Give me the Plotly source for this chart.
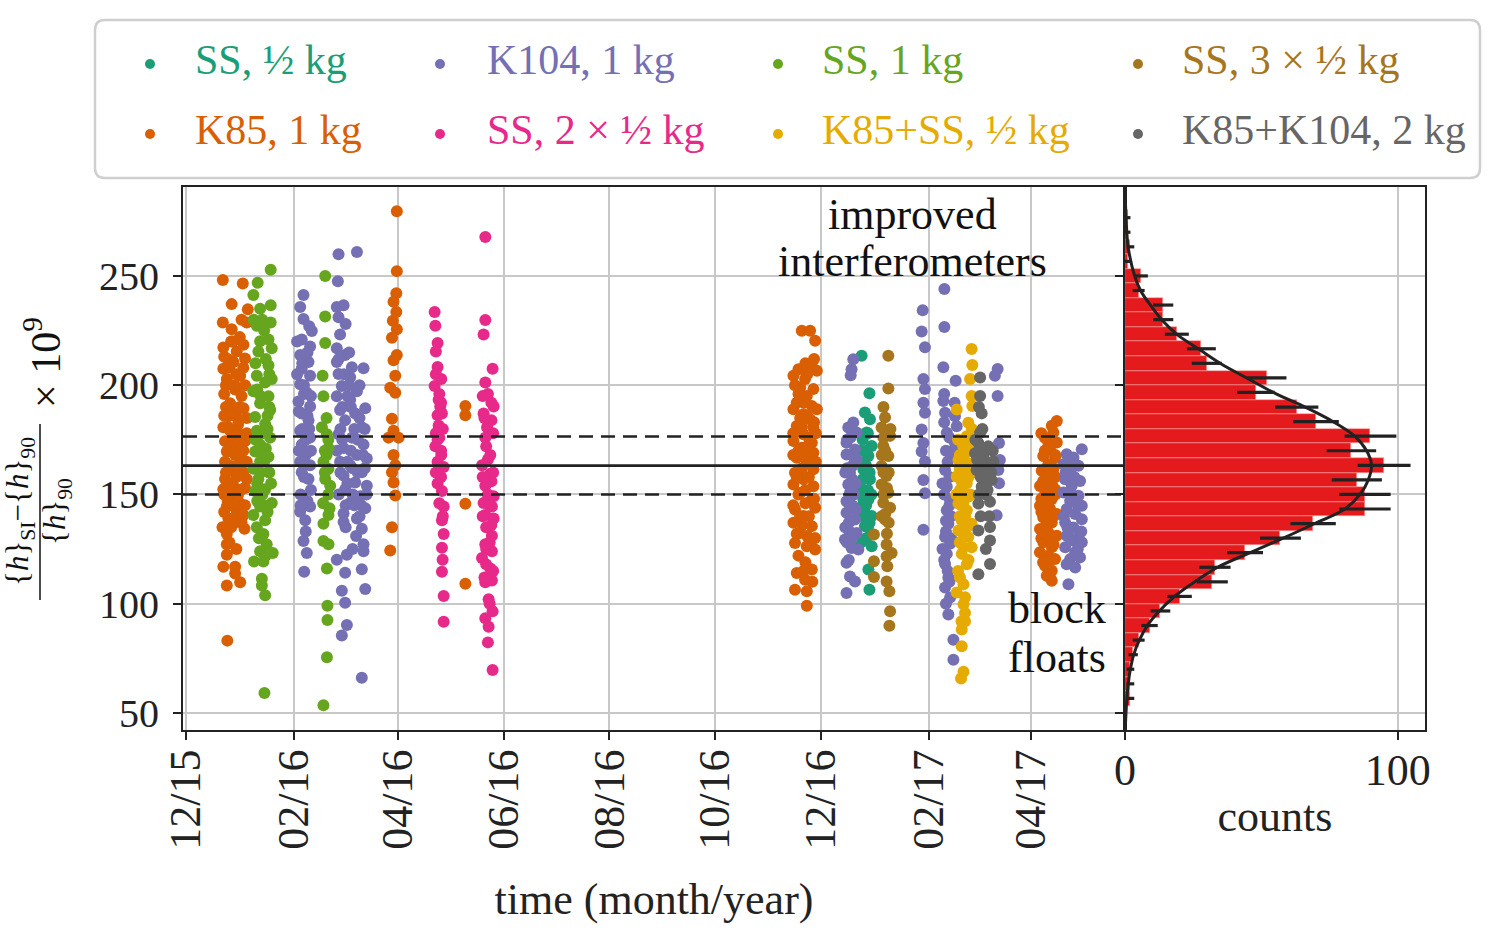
import pandas as pd
import plotly.graph_objects as go

W, H = 1500, 937
FONT = "Liberation Serif, Times New Roman, serif"
BASE = pd.Timestamp("2015-12-01")

# ---------------- data: (days since 2015-12-01, value) ----------------
SS_HALF = [(389.4,213.5),(393.9,196.3),(391.3,187.5),(394.2,184.4),(392.3,178.3),(395.2,172.2),(393.3,167.6),
           (390.4,161.5),(394.2,156.9),(389.4,151.5),(393.3,147.7),(388.4,143.9),(395.2,140.1),(391.3,135.5),
           (395.2,126.3),(393.3,115.6),(393.9,106.4),(390.4,147.7),(388.4,153.8),(392,170),(390,157),(393,152),
           (391,142),(394,137),(392,130),(390,175),(392,163),
           (389,170),(393,178),(391,150),(394,160),(390,140),(392,145),(395,150),(391,165),(393,135),(389,128)]

K85 = [(21.2,248.1),(32.7,246.5),(26.3,237.1),(35.6,234.7),(21.2,228.7),(26.3,225.6),(35.0,228.7),(21.5,217.2),
       (29.2,215.4),(33.1,218.5),(34.0,212.2),(27.3,210.6),(21.5,207.5),(31.2,204.3),(23.5,202.8),(28.3,198.0),
       (25.4,191.7),(33.1,189.4),(29.2,185.4),(21.5,180.7),(25.4,179.1),(31.2,177.6),(22.5,174.4),(29.2,172.8),
       (34.0,174.4),(23.5,169.7),(28.3,168.1),(22.5,165.0),(33.1,165.0),(25.4,161.8),(30.2,160.2),(22.5,157.1),
       (35.0,157.1),(27.3,153.9),(21.5,152.4),(32.1,152.4),(25.4,147.6),(23.5,144.5),(29.2,142.1),(33.1,140.6),
       (24.4,139.0),(29.2,137.4),(33.7,134.3),(23.5,131.9),(23.5,127.2),(23.5,122.4),(21.5,116.9),(28.3,116.9),
       (28.3,113.8),(31.2,109.8),(23.5,108.3),(23.8,83.1),
       (26,220),(31,222),(24,212),(33,208),(28,200),(22,196),(32,195),(25,186),(30,182),(35,185),(27,176),(24,170),
       (31,167),(26,163),(29,158),(23,160),(33,170),(27,150),(31,146),(22,142),(26,135),(30,150),(34,145),
       (22,213),(25,208),(29,205),(34,200),(23,190),(27,188),(31,190),(35,178),(24,181),(28,179),(33,160),(22,150),
       (26,155),(30,163),(34,153),(24,147),(28,145),(32,137),(25,128),(21,135),(29,125),(23,200),(27,220),(32,230),
       (26,172),(29,177),(22,186),(35,165),
       (121.5,279.6),(121.5,252.2),(121.2,242.1),(119.6,238.2),(121.2,233.5),(119.2,229.5),(121.5,225.6),
       (118.7,221.7),(121.5,213.8),(119.6,211.4),(120.6,204.3),(117.7,198.8),(120.6,196.5),(118.7,184.6),
       (119.6,179.1),(122.5,176.0),(116.7,176.0),(119.6,168.1),(120.6,163.4),(118.7,160.2),(119.6,155.5),
       (120.6,149.5),(118.7,135.0),(117.7,124.3),
       (161,190.5),(161,186.2),(161,145.7),(161,109.1),
       (354.9,224.9),(359.7,224.9),(362.6,220.3),(353.0,207.3),(360.7,208.9),(350.1,204.3),(363.6,206.6),
       (356.8,202.8),(354.0,198.9),(361.6,198.2),(357.8,195.1),(352.0,192.0),(360.7,190.5),(350.1,189.0),
       (363.6,189.0),(355.9,186.7),(359.7,184.4),(352.0,181.3),(361.6,180.6),(355.9,177.5),(350.1,174.5),
       (360.7,173.7),(354.9,171.4),(361.6,169.1),(352.0,166.8),(357.8,164.5),(361.6,161.5),(351.0,159.9),
       (355.9,156.9),(350.1,154.6),(361.6,153.8),(354.0,150.8),(360.7,147.7),(351.0,143.1),(362.6,143.9),
       (355.9,140.1),(350.1,137.0),(360.7,135.5),(354.0,132.4),(362.6,130.1),(351.0,127.8),(357.8,126.3),
       (362.6,124.8),(352.0,114.1),(360.7,115.6),(356.8,111.0),(351.0,106.4),(357.8,105.7),(357.8,99.1),
       (357,210),(353,196),(358,186),(355,181),(359,176),(353,170),(358,168),(355,162),(359,158),(353,150),
       (357,146),(359,140),(355,136),(358,131),(353,122),(357,119),
       (351,200),(356,192),(362,183),(350,178),(358,172),(363,165),(352,158),(357,152),(362,148),(350,145),
       (354,140),(360,128),(352,132),(356,115),(361,110),(354,185),(362,212),(350,168),(358,205),(363,178),
       (501.9,183.6),(499.0,181.4),(499.9,178.3),(496.1,175.3),(501.9,173.8),(498.0,170.7),(494.1,167.6),
       (500.9,166.9),(497.0,163.8),(493.2,160.8),(499.9,159.2),(496.1,156.2),(492.2,153.9),(500.9,152.4),
       (495.1,150.1),(499.0,147.9),(492.2,144.8),(498.0,143.3),(501.9,141.0),(494.1,139.5),(499.0,137.2),
       (492.2,134.2),(497.0,132.6),(501.9,131.1),(494.1,128.1),(499.0,125.8),(492.2,123.5),(497.0,122.0),
       (500.9,120.4),(495.1,117.4),(499.0,115.1),(496.1,112.8),(499.0,110.5),
       (495,170),(500,162),(494,156),(498,152),(493,148),(500,140),(496,136),(493,130),(500,127),(497,118),
       (493,178),(497,172),(501,168),(495,160),(499,155),(493,142),(497,145),(501,150),(495,132),(499,130),
       (494,119),(498,112),(495,176),(501,158)]

K104 = [(67.7,241.3),(65.8,235.8),(67.7,230.3),(72.5,224.8),(66.7,220.9),(71.5,217.7),(65.8,213.8),(70.6,210.6),
        (66.7,207.5),(71.5,204.3),(65.8,200.4),(69.6,196.5),(64.8,192.5),(71.5,190.2),(66.7,187.0),(70.6,183.9),
        (65.8,179.1),(71.5,176.0),(66.7,172.8),(70.6,169.7),(65.8,165.0),(71.5,163.4),(66.7,160.2),(70.6,157.1),
        (65.8,142.1),(71.5,144.5),(68.7,138.2),(67.7,128.7),(69.6,123.2),(68.1,114.6),
        (68,196),(70,186),(67,180),(69,168),(66,150),(70,147),(67,210),(71,227),
        (64,205),(68,200),(72,195),(65,188),(69,175),(72,170),(65,170),(68,158),(72,152),(66,145),(69,133),
        (64,220),(70,215),(67,165),(71,180),
        (87.9,259.9),(98.5,261.0),(87.5,247.6),(86.9,235.8),(90.8,236.6),(87.9,231.1),(88.8,223.2),(86.9,216.9),
        (91.7,213.8),(86.9,210.6),(95.6,208.2),(102.3,207.8),(87.9,205.1),(94.6,203.6),(89.8,199.6),(98.5,197.2),
        (86.9,194.9),(94.6,193.3),(103.3,189.4),(88.8,188.6),(97.5,187.0),(91.7,183.9),(101.3,180.7),(87.9,177.6),
        (95.6,176.0),(102.3,172.8),(90.8,171.3),(98.5,168.1),(88.8,165.0),(104.2,166.5),(94.6,163.4),(101.3,160.2),
        (90.8,158.7),(97.5,155.5),(104.2,154.0),(91.7,152.4),(100.4,149.2),(94.6,146.1),(103.3,143.7),(90.8,141.3),
        (98.5,139.0),(90.8,137.4),(101.3,134.3),(102.3,127.2),(102.3,124.0),(86.9,120.1),(92.7,122.4),(91.7,114.2),
        (101.3,115.8),(89.8,105.9),(103.3,106.7),(91.7,100.4),(92.7,90.2),(89.8,85.4),(101.3,66.1),
        (93,195),(97,180),(90,175),(99,160),(93,165),(96,150),(101,145),(92,145),(95,170),(100,185),(89,180),
        (94,200),(103,162),(98,131),
        (88,212),(91,205),(95,190),(99,175),(102,168),(89,160),(93,155),(97,145),(100,140),(104,150),(88,150),
        (92,135),(96,125),(90,190),(94,215),(100,200),(103,180),(87,170),(96,162),(92,228),
        (384.6,211.9),(383.6,207.3),(383.1,204.6),(384.6,182.9),(381.7,180.6),(386.5,178.3),(380.7,173.7),
        (385.6,170.6),(380.7,168.3),(386.5,166.1),(382.7,159.9),(381.7,154.6),(382.7,150.8),(380.7,146.9),
        (383.6,143.9),(380.7,141.6),(385.6,138.5),(381.7,133.9),(386.5,132.4),(379.8,129.4),(383.6,125.5),
        (387.5,124.8),(380.7,118.7),(382.7,112.5),(385.6,110.2),(380.7,104.9),
        (383,176),(384,163),(381,162),(385,150),(382,137),(384,145),(381,128),(384,157),
        (381,175),(385,167),(382,146),(386,143),(380,135),(384,130),(382,120),(386,155),(380,160),
        (424.6,234.3),(424.0,224.6),(425.9,217.4),(425.0,202.8),(425.9,198.2),(425.0,192.0),(425.9,187.4),
        (424.0,179.7),(425.0,173.5),(424.0,169.7),(425.9,165.1),(425.0,156.6),(425.9,150.5),(425.0,133.8),
        (437.1,244.0),(437.1,226.6),(436.5,208.2),(443.6,202.0),(436.5,192.8),(437.5,187.4),(443.2,185.8),
        (444.2,181.2),(438.5,178.2),(443.2,173.5),(441.3,167.4),(437.5,161.2),(438.5,153.5),(440.4,147.4),
        (438.5,142.8),(439.4,136.6),(437.5,130.5),(440.4,127.4),(438.5,122.8),(437.5,118.2),(439.4,112.0),
        (437.5,107.4),(440.4,102.8),(439.4,95.1),(442.3,83.5),(442.3,74.3),
        (438,170),(440,158),(437,150),(441,140),(438,133),(436,125),(439,115),(440,176),(437,196),
        (437,183),(442,170),(439,165),(436,155),(440,145),(438,138),(441,130),(437,120),(440,110),(438,100),
        (443,192),
        (467.8,207.4),(466.2,204.3),(467.8,195.1),(468.6,173.5),(469.1,165.8),(468.2,161.2),(468.6,155.1),
        (467.2,140.5),
        (516.3,170.7),(507.6,168.4),(511.5,166.9),(505.7,163.8),(514.4,163.1),(509.6,160.8),(506.7,157.0),
        (515.3,156.2),(510.5,153.9),(505.7,150.9),(514.4,149.4),(509.6,147.1),(516.3,144.8),(507.6,143.3),
        (512.5,141.0),(516.3,138.7),(506.7,137.2),(511.5,134.9),(515.3,132.6),(507.6,131.1),(511.5,128.8),
        (516.3,128.1),(506.7,125.8),(512.5,123.5),(509.6,120.4),(515.3,121.2),(507.6,118.1),(512.5,116.6),
        (508.6,108.9),
        (507,160),(510,150),(514,145),(506,140),(510,130),(514,125),(508,135),(512,158),(516,133),(509,165)]

SS_2HALF = [(143.3,233.5),(143.7,227.2),(145.0,219.3),(144.0,215.4),(145.0,208.3),(147.1,202.8),(143.3,199.6),
            (145.6,193.3),(146.5,190.2),(145.0,186.2),(147.5,187.0),(145.6,181.5),(143.7,172.0),(147.1,168.1),
            (145.0,165.0),(148.5,162.6),(147.5,151.6),(148.5,144.5),(147.5,138.2),(148.5,131.9),(147.5,125.6),
            (147.9,120.1),(147.5,114.6),(148.5,103.5),(148.5,91.7),
            (146,196),(144,178),(146,176),(147,158),(146,146),
            (144,205),(147,192),(145,175),(148,180),(144,160),(147,170),(145,155),(148,140),
            (172.5,267.8),(172.5,229.8),(171.5,223.2),(176.7,207.5),(172.5,201.2),(177.3,190.2),(171.5,187.0),
            (173.5,180.7),(172.5,176.0),(175.4,168.1),(170.6,163.4),(175.4,159.5),(172.5,154.0),(177.3,149.2),
            (171.5,146.1),(176.3,144.5),(172.5,140.6),(177.3,139.0),(176.3,131.1),(172.5,127.2),(176.3,124.0),
            (170.6,120.9),(175.4,116.1),(172.5,109.8),(176.3,110.6),(174.4,102.0),(176.7,96.5),(172.5,93.3),
            (174.4,89.4),(174.0,82.3),(176.7,69.7),
            (174,196),(176,184),(173,172),(176,156),(174,150),(173,135),(175,128),(173,118),
            (171,195),(176,192),(172,185),(177,178),(174,166),(171,158),(177,160),(175,145),(171,140),(176,136),
            (173,125),(177,115),(172,112),(175,100)]

SS_1 = [(48.8,252.8),(41.3,246.9),(38.8,241.3),(42.7,235.0),(48.8,236.6),(40.8,227.2),(48.8,228.7),(42.7,220.1),
        (47.5,220.9),(49.4,216.9),(41.7,215.4),(47.5,209.1),(40.8,204.3),(49.4,202.8),(45.6,201.2),(38.8,197.2),
        (47.5,194.9),(42.7,191.7),(48.5,188.6),(39.8,185.4),(45.6,182.3),(40.8,179.1),(48.5,176.0),(42.7,172.8),
        (39.8,169.7),(47.5,167.3),(42.7,165.0),(38.8,161.8),(47.5,160.2),(41.7,157.1),(45.6,152.4),(39.8,151.6),
        (49.4,146.1),(42.7,144.5),(38.8,140.6),(45.6,138.2),(40.8,135.0),(44.6,131.9),(46.5,127.2),(42.7,124.0),
        (50.0,123.2),(39.2,119.3),(44.6,119.3),(43.7,111.4),(43.7,108.3),(45.6,103.9),(45.2,59.1),
        (44,230),(46,212),(41,198),(47,186),(44,178),(46,171),(43,160),(45,165),(41,147),(47,142),(44,150),
        (40,210),(48,205),(43,195),(47,180),(40,175),(44,168),(48,160),(41,155),(45,145),(49,155),(42,130),
        (46,122),(39,230),(45,225),(48,190),
        (80.2,250.0),(80.2,231.4),(80.2,219.3),(78.7,204.3),(79.2,194.9),(78.3,180.7),(81.2,177.6),(82.1,171.3),
        (79.2,165.0),(82.1,161.8),(80.2,157.1),(83.1,154.0),(82.7,143.7),(82.1,140.6),(79.2,136.6),(79.2,128.7),
        (82.1,127.2),(81.2,116.1),(81.5,99.1),(81.5,92.5),(81.2,75.5),(79.2,53.5),
        (81,168),(80,160),(82,175),(80,170),(82,150),(79,146),(81,185)]

K85_SS = [(452.8,216.6),(453.2,209.2),(451.9,202.8),(452.8,195.1),(453.2,190.5),(444.2,188.9),(450.9,182.8),
          (450.0,176.6),(452.8,173.5),(449.0,168.9),(445.2,165.8),(450.9,164.3),(447.1,161.2),(444.2,158.2),
          (450.0,155.1),(446.1,152.0),(450.9,148.9),(445.2,145.8),(450.0,142.8),(447.1,138.2),(452.8,136.6),
          (445.2,133.5),(450.9,130.5),(448.1,125.8),(452.8,125.8),(447.1,122.8),(446.1,112.0),(448.1,108.9),
          (444.2,105.1),(448.1,99.7),(449.0,95.8),(449.0,92.0),(447.1,88.2),(447.1,80.5),(448.1,68.9),(446.7,65.8),
          (448,172),(446,168),(449,160),(447,156),(449,150),(447,145),(449,140),(446,128),(450,118),(447,158),
          (446,148),
          (445,175),(450,170),(453,180),(446,162),(451,158),(444,150),(448,146),(452,150),(446,140),(450,135),
          (448,132),(451,120),(445,115),(449,103),(447,92),(453,160)]

SS_3HALF = [(404.8,213.5),(404.8,198.5),(402.9,185.2),(400.9,180.6),(405.8,176.8),(401.9,172.2),(404.8,167.6),
            (400.9,163.0),(403.8,158.4),(400.9,154.6),(404.8,150.8),(401.9,146.2),(405.8,143.9),(402.9,138.5),
            (396.5,131.7),(403.8,127.1),(406.7,123.2),(403.8,121.7),(396.5,119.4),(404.2,117.1),(396.5,112.2),
            (403.8,110.2),(405.4,105.7),(405.8,96.5),(405.4,89.9),
            (403,170),(402,160),(404,153),(403,141),(402,176),
            (401,168),(405,160),(402,150),(405,137),(401,140),(404,132),(406,180),(402,190)]

K85_K104 = [(457.7,203.5),(457.7,195.1),(458.6,187.1),(457.7,178.2),(456.7,173.5),(462.4,172.0),(459.6,167.4),
            (465.3,165.1),(455.7,161.2),(461.5,159.7),(464.3,156.6),(458.6,153.5),(456.7,145.8),(463.4,146.6),
            (456.7,133.5),(463.4,135.1),(463.4,128.9),(463.4,118.2),(456.7,113.5),(459.6,161.2),(454.8,168.9),
            (460,170),(462,163),(458,158),(461,150),(458,164),(463,157),
            (455,175),(459,180),(464,160),(457,150),(462,152),(456,166),(460,158),(463,140),(458,140),(461,125),
            (457,190),(465,170)]

SERIES_NAMES = ["SS, ½ kg", "K85, 1 kg", "K104, 1 kg", "SS, 2 × ½ kg",
                "SS, 1 kg", "K85+SS, ½ kg", "SS, 3 × ½ kg", "K85+K104, 2 kg"]
SERIES_DATA = [SS_HALF, K85, K104, SS_2HALF, SS_1, K85_SS, SS_3HALF, K85_K104]
COLORS = ["#1b9e77", "#d95f02", "#7570b3", "#e7298a", "#66a61e", "#e6ab02", "#a6761d", "#666666"]

# histogram (bin centres, counts, errors)
HIST_CENTER = [56.67, 63.33, 70.0, 76.67, 83.33, 90.0, 96.67, 103.33, 110.0, 116.67, 123.33, 130.0,
               136.67, 143.33, 150.0, 156.67, 163.33, 170.0, 176.67, 183.33, 190.0, 196.67, 203.33,
               210.0, 216.67, 223.33, 230.0, 236.67, 243.33, 250.0, 256.67, 263.33, 270.0, 276.67]
HIST_COUNT = [2, 2, 2, 3, 5, 9, 13, 20, 32, 33, 44, 57, 69, 88, 88, 85, 95, 83, 90, 70, 63, 48, 52,
              30, 28, 19, 14, 14, 5, 6, 1, 2, 1, 1]
HIST_ERR = [1.4, 1.4, 1.4, 1.7, 2.2, 3.0, 3.6, 4.5, 5.7, 5.7, 6.6, 7.5, 8.3, 9.4, 9.4, 9.2, 9.7, 9.1,
            9.5, 8.4, 7.9, 6.9, 7.2, 5.5, 5.3, 4.4, 3.7, 3.7, 2.2, 2.4, 1.0, 1.4, 1.0, 1.0]
BIN_WIDTH = 6.667

# fitted gaussian
FIT_VAL = [42, 57.0, 63.6, 70.2, 76.7, 83.4, 90.2, 96.7, 103.3, 110, 116.7, 123.3, 130, 136.7, 143.3,
           150, 156.6, 163.4, 170.0, 176.6, 183.3, 189.7, 196.4, 203.0, 209.7, 216.3, 222.9, 229.5,
           236.2, 242.9, 249.4, 262.8, 275.8, 290]
FIT_COUNT = [0.05, 0.7, 1.2, 2.0, 3.2, 5.3, 8.3, 12.6, 18.1, 25.5, 34, 45.7, 58, 69.6, 80.6, 86.2, 89.2,
             90.4, 88.6, 84.3, 76.3, 66.5, 54.9, 45.1, 35.3, 27.3, 19.4, 13.8, 9.6, 5.9, 3.7, 1.2, 0.4, 0.05]

MEAN_LINE = 163.2
BAND_LOW = 150.0
BAND_HIGH = 176.5

Y_TICKS = [50, 100, 150, 200, 250]
X_RANGE = ["2015-11-29 06:00", "2017-05-25 05:00"]
Y_RANGE = [42.2, 290.7]
COUNT_RANGE = [0, 110]

# ---------------- figure ----------------
def px_x(p):
    return p / W

def px_y(p):
    return 1 - p / H

def to_dates(pts):
    return [BASE + pd.Timedelta(days=d) for d, _ in pts]

fig = go.Figure()

for name, pts, col in zip(SERIES_NAMES, SERIES_DATA, COLORS):
    fig.add_trace(go.Scatter(
        x=to_dates(pts), y=[v for _, v in pts], mode="markers", name=name,
        marker=dict(size=12, color=col, line=dict(width=0)),
        xaxis="x", yaxis="y", showlegend=False))

fig.add_trace(go.Bar(
    y=HIST_CENTER, x=HIST_COUNT, orientation="h", width=BIN_WIDTH,
    marker=dict(color="#e41a1c", line=dict(color="#f1a5a5", width=0.6)),
    error_x=dict(type="data", array=HIST_ERR, color="#222222", thickness=3.2, width=0),
    xaxis="x2", yaxis="y2", showlegend=False))

fig.add_trace(go.Scatter(
    x=FIT_COUNT, y=FIT_VAL, mode="lines", line=dict(color="#222222", width=3, shape="spline"),
    xaxis="x2", yaxis="y2", showlegend=False))

# horizontal reference lines in main panel
for val, dash in [(MEAN_LINE, "solid"), (BAND_LOW, "14px,8px"), (BAND_HIGH, "14px,8px")]:
    fig.add_shape(type="line", xref="x domain", yref="y", x0=0, x1=1, y0=val, y1=val,
                  line=dict(color="#222222", width=2.6, dash=dash))

GRID = "#c8c8c8"
axis_common = dict(showline=True, linecolor="#222222", linewidth=2, mirror=True,
                   showgrid=True, gridcolor=GRID, gridwidth=1.6, zeroline=False,
                   ticks="outside", ticklen=8, tickwidth=1.5, tickcolor="#222222",
                   automargin=False)
TICKFONT = dict(family=FONT, size=40, color="#222222")
TICKFONT_X = dict(family=FONT, size=44, color="#222222")

fig.update_layout(
    width=W, height=H, margin=dict(l=0, r=0, t=0, b=0),
    paper_bgcolor="white", plot_bgcolor="white",
    font=dict(family=FONT, color="#222222"),
    bargap=0,
    xaxis=dict(domain=[px_x(183), px_x(1125)], type="date", range=X_RANGE,
               tick0="2015-12-01", dtick="M2", tickformat="%m/%y", tickangle=-90,
               tickfont=TICKFONT_X, ticklabelstandoff=-8,
               title=dict(text="time (month/year)", font=dict(family=FONT, size=44), standoff=34),
               anchor="y", **axis_common),
    yaxis=dict(domain=[px_y(730), px_y(187)], range=Y_RANGE, tickvals=Y_TICKS,
               tickfont=TICKFONT, ticklabelstandoff=6, anchor="x", **axis_common),
    xaxis2=dict(domain=[px_x(1125), px_x(1425)], range=COUNT_RANGE, tickvals=[0, 100],
                tickfont=TICKFONT_X, ticklabelstandoff=-8,
                title=dict(text="counts", font=dict(family=FONT, size=44), standoff=6),
                anchor="y2", **axis_common),
    yaxis2=dict(domain=[px_y(730), px_y(187)], matches="y", range=Y_RANGE, tickvals=Y_TICKS,
                showticklabels=False, anchor="x2", **axis_common),
)

# legend box (rounded)
x0, x1, yt, yb = px_x(95), px_x(1480), px_y(20), px_y(178)
rx, ry = 10 / W, 10 / H
path = (f"M {x0+rx},{yt} L {x1-rx},{yt} Q {x1},{yt} {x1},{yt-ry} L {x1},{yb+ry} "
        f"Q {x1},{yb} {x1-rx},{yb} L {x0+rx},{yb} Q {x0},{yb} {x0},{yb+ry} L {x0},{yt-ry} "
        f"Q {x0},{yt} {x0+rx},{yt} Z")
fig.add_shape(type="path", path=path, xref="paper", yref="paper",
              line=dict(color="#cfcfcf", width=2.5), fillcolor="white", layer="below")

# legend entries: column x of dot, text start, row y
col_dot = [150, 440, 778, 1138]
col_txt = [193, 485, 820, 1180]
row_y = [60, 130]
for i, (name, col) in enumerate(zip(SERIES_NAMES, COLORS)):
    c, r = i // 2, i % 2
    fig.add_shape(type="circle", xref="paper", yref="paper", xsizemode="pixel", ysizemode="pixel",
                  xanchor=px_x(col_dot[c]), yanchor=px_y(row_y[r] + 4), x0=-5, x1=5, y0=-5, y1=5,
                  fillcolor=col, line=dict(width=0))
    fig.add_annotation(xref="paper", yref="paper", x=px_x(col_txt[c]), y=px_y(row_y[r]),
                       xanchor="left", yanchor="middle", text=name, showarrow=False,
                       font=dict(family=FONT, size=42, color=col))

# text annotations in the main panel (one per line)
NOTE_FONT = dict(family=FONT, size=44, color="#111111")
for txt, day, val in [("improved", 419, 278.0), ("interferometers", 419, 256.5),
                      ("block", 502, 98.0), ("floats", 502, 75.5)]:
    fig.add_annotation(xref="x", yref="y", x=BASE + pd.Timedelta(days=day), y=val,
                       xanchor="center", yanchor="middle", text=txt, showarrow=False,
                       font=NOTE_FONT)

# y axis title as a stacked fraction
HI = "{<i>h</i>}"
fig.add_annotation(xref="paper", yref="paper", x=px_x(20), y=px_y(512), textangle=-90,
                   xanchor="center", yanchor="middle",
                   text=f"{HI}<sub>SI</sub>−{HI}<sub>90</sub>", showarrow=False,
                   font=dict(family=FONT, size=31, color="#111111"))
fig.add_shape(type="line", xref="paper", yref="paper", x0=px_x(40), x1=px_x(40),
              y0=px_y(424), y1=px_y(600), line=dict(color="#111111", width=1.5))
fig.add_annotation(xref="paper", yref="paper", x=px_x(57), y=px_y(512), textangle=-90,
                   xanchor="center", yanchor="middle",
                   text=f"{HI}<sub>90</sub>", showarrow=False,
                   font=dict(family=FONT, size=31, color="#111111"))
fig.add_annotation(xref="paper", yref="paper", x=px_x(42), y=px_y(363), textangle=-90,
                   xanchor="center", yanchor="middle",
                   text="× 10<sup>9</sup>", showarrow=False,
                   font=dict(family=FONT, size=42, color="#111111"))

fig.write_html("out.html", config={"displayModeBar": False},
               post_script="document.body.style.margin='0';")
